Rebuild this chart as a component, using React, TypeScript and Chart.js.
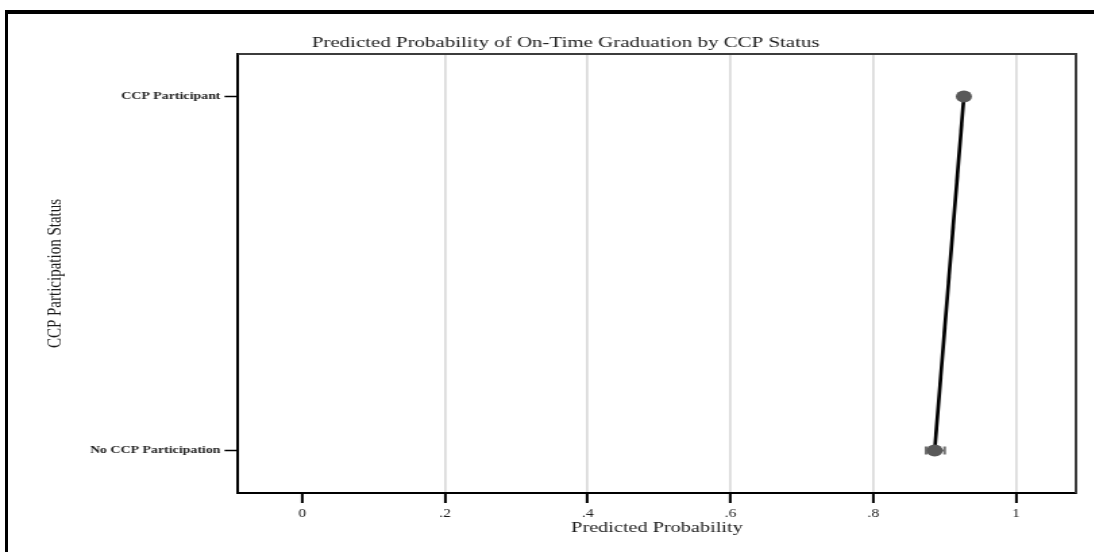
import React, { useEffect, useRef } from "react";
import { Chart, registerables } from "chart.js";

Chart.register(...registerables);

// ---- data ----
const categories = ["No CCP Participation", "CCP Participant"];
const categoryIndex = [0, 1];
const predicted = [0.886, 0.927];
const ciLower = [0.874, 0.921];
const ciUpper = [0.9, 0.933];
const xTickValues = [0, 0.2, 0.4, 0.6, 0.8, 1];
const xTickLabels = ["0", ".2", ".4", ".6", ".8", "1"];

const chartTitle = "Predicted Probability of On-Time Graduation by CCP Status";
const xTitle = "Predicted Probability";
const yTitle = "CCP Participation Status";

// ---- layout ----
const STRETCH = 1.35;
const W = 810;
const H = 552;
const SERIF = "'Liberation Serif', 'Times New Roman', Times, serif";

const errorBars = {
  id: "errorBars",
  beforeDatasetsDraw(chart: any) {
    const { ctx, scales } = chart;
    const xs = scales.x;
    const ys = scales.y;
    ctx.save();
    ctx.strokeStyle = "#707070";
    ctx.lineWidth = 2;
    for (let i = 0; i < categoryIndex.length; i++) {
      const x0 = xs.getPixelForValue(ciLower[i]);
      const x1 = xs.getPixelForValue(ciUpper[i]);
      const py = ys.getPixelForValue(categoryIndex[i]);
      ctx.beginPath();
      ctx.moveTo(x0, py);
      ctx.lineTo(x1, py);
      ctx.moveTo(x0, py - 4);
      ctx.lineTo(x0, py + 4);
      ctx.moveTo(x1, py - 4);
      ctx.lineTo(x1, py + 4);
      ctx.stroke();
    }
    ctx.restore();
  },
};

const plotFrame = {
  id: "plotFrame",
  beforeDatasetsDraw(chart: any) {
    const { ctx, chartArea } = chart;
    ctx.save();
    ctx.strokeStyle = "#3c3c3c";
    ctx.lineWidth = 2;
    ctx.beginPath();
    ctx.moveTo(chartArea.left, chartArea.top);
    ctx.lineTo(chartArea.right, chartArea.top);
    ctx.lineTo(chartArea.right, chartArea.bottom);
    ctx.stroke();
    ctx.restore();
  },
};

export default function App() {
  const canvasRef = useRef<HTMLCanvasElement | null>(null);

  useEffect(() => {
    if (!canvasRef.current) return;
    const points = predicted.map((v, i) => ({ x: v, y: categoryIndex[i] }));
    const chart = new Chart(canvasRef.current, {
      type: "line",
      data: {
        datasets: [
          {
            data: points,
            borderColor: "#000000",
            borderWidth: 2.7,
            pointRadius: 6,
            pointHoverRadius: 6,
            pointBackgroundColor: "#595959",
            pointBorderColor: "#595959",
            pointBorderWidth: 0,
            fill: false,
            tension: 0,
          },
        ],
      },
      options: {
        animation: false,
        responsive: false,
        maintainAspectRatio: false,
        devicePixelRatio: 1,
        layout: { padding: { left: 41, right: 13, top: 33.7, bottom: 0 } },
        plugins: {
          legend: { display: false },
          tooltip: { enabled: false },
          title: {
            display: true,
            text: chartTitle,
            color: "#1a1a1a",
            font: { family: SERIF, size: 15.5, weight: "normal" },
            padding: { top: 0, bottom: 1.7 },
          },
        },
        scales: {
          x: {
            type: "linear",
            min: -0.09,
            max: 1.084,
            afterBuildTicks: (scale: any) => {
              scale.ticks = xTickValues.map((v) => ({ value: v }));
            },
            afterFit: (scale: any) => {
              scale.height = 59;
            },
            ticks: {
              color: "#1a1a1a",
              padding: 4,
              font: { family: SERIF, size: 11.5 },
              callback: (value: any) => {
                const idx = xTickValues.findIndex((t) => Math.abs(t - Number(value)) < 1e-9);
                return idx >= 0 ? xTickLabels[idx] : "";
              },
            },
            grid: {
              display: true,
              drawOnChartArea: true,
              drawTicks: true,
              tickLength: 10,
              tickWidth: 2,
              tickColor: "#000000",
              lineWidth: 1.8,
              color: (ctx: any) => (ctx.tick && Math.abs(ctx.tick.value) < 1e-9 ? "rgba(0,0,0,0)" : "#dcdcdc"),
            },
            border: { display: true, color: "#000000", width: 2 },
            title: {
              display: true,
              text: xTitle,
              color: "#1a1a1a",
              font: { family: SERIF, size: 15 },
              padding: { top: 0, bottom: 15 },
            },
          },
          y: {
            type: "linear",
            min: -0.12,
            max: 1.12,
            afterBuildTicks: (scale: any) => {
              scale.ticks = categoryIndex.map((v) => ({ value: v }));
            },
            afterFit: (scale: any) => {
              scale.width = 135.3;
            },
            ticks: {
              color: "#222222",
              padding: 3,
              font: { family: SERIF, size: 10.3, weight: "bold" },
              callback: (value: any) => {
                const idx = categoryIndex.indexOf(Number(value));
                return idx >= 0 ? categories[idx] : "";
              },
            },
            grid: {
              display: true,
              drawOnChartArea: false,
              drawTicks: true,
              tickLength: 10,
              tickWidth: 1.5,
              tickColor: "#000000",
            },
            border: { display: true, color: "#000000", width: 2 },
            title: {
              display: true,
              text: yTitle,
              color: "#1a1a1a",
              font: { family: SERIF, size: 15 },
              padding: { top: -9.3, bottom: 0 },
            },
          },
        },
      },
      plugins: [plotFrame, errorBars],
    } as any);
    return () => chart.destroy();
  }, []);

  return (
    <div
      style={{
        position: "absolute",
        left: 0,
        top: 0,
        width: 1094,
        height: 552,
        overflow: "hidden",
        background: "#ffffff",
      }}
    >
      <div
        style={{
          position: "absolute",
          left: 0,
          top: 0,
          width: W,
          height: H,
          transform: `scaleX(${STRETCH})`,
          transformOrigin: "0 0",
        }}
      >
        <canvas ref={canvasRef} width={W} height={H} style={{ display: "block" }} />
      </div>
      <div style={{ position: "absolute", left: 5, top: 10, width: 1089, height: 4, background: "#000" }} />
      <div style={{ position: "absolute", left: 5, top: 10, width: 3, height: 542, background: "#000" }} />
    </div>
  );
}
